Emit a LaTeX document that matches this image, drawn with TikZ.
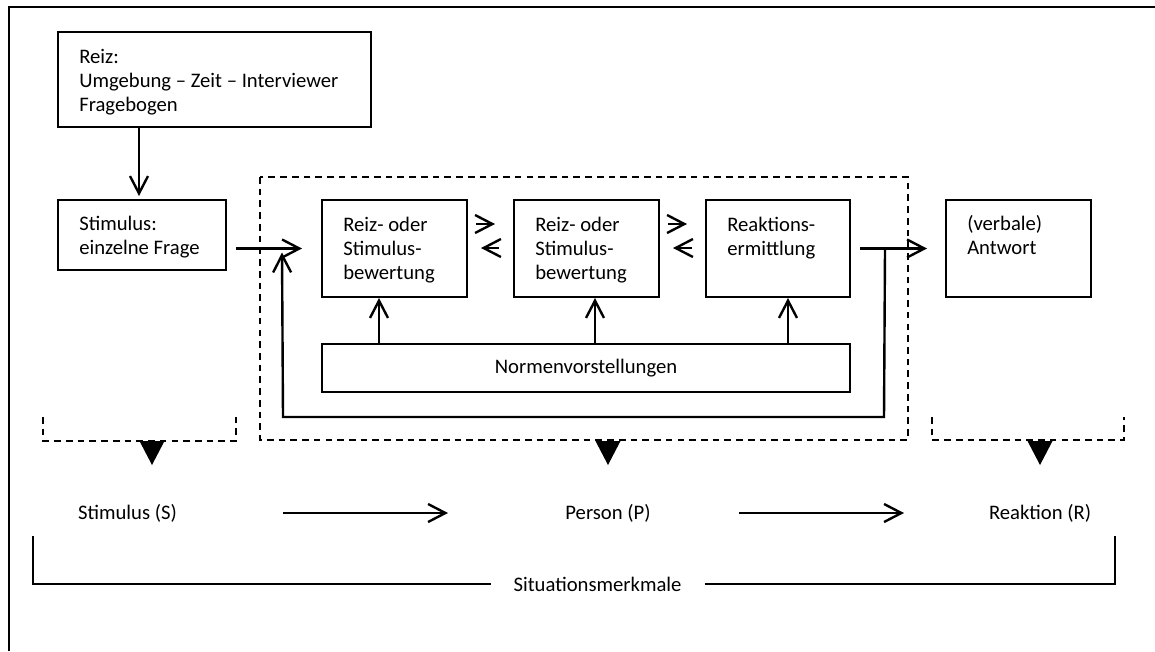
\documentclass[tikz,border=0pt]{standalone}
\usepackage{fontspec}
\setmainfont{Carlito}
\usetikzlibrary{arrows.meta,fit,calc}
\begin{document}
\begin{tikzpicture}[x=0.75pt,y=-0.75pt,
  box/.style={draw, line width=1.5pt, inner sep=0pt},
  txt/.style={inner sep=0pt, font=\fontsize{15.5pt}{18pt}\selectfont},
  arr/.style={line width=1.8pt, -{Straight Barb[length=13pt,width=13.5pt,line width=1.8pt]}},
  link/.style={line width=1.6pt},
  dashbox/.style={line width=1.4pt, dash pattern=on 5pt off 3.8pt},
  marker/.style={fill=black}]
\useasboundingbox (0,0) rectangle (1155,651);

% frame
\draw[line width=1.8pt] (9,651) -- (9,7) -- (1155,7);

% boxes
\node[box, fit={(58,32)(371,127)}] (reiz) {};
\node[box, fit={(58,200)(226,270)}] (stim) {};
\node[box, fit={(322,200)(467,297)}] (b1) {};
\node[box, fit={(514,200)(659,297)}] (b2) {};
\node[box, fit={(706,200)(850,297)}] (b3) {};
\node[box, fit={(946,200)(1091,297)}] (ant) {};
\node[box, fit={(322,344)(850,392)}] (norm) {};

% box texts
\node[txt, anchor=base west] (reiztxt) at (79,63) {\begin{tabular}[t]{@{}l@{}}Reiz:\\Umgebung -- Zeit -- Interviewer\\Fragebogen\end{tabular}};
\node[txt, anchor=base west] (stimtxt) at (79,230) {\begin{tabular}[t]{@{}l@{}}Stimulus:\\einzelne Frage\end{tabular}};
\node[txt, anchor=base west] (b1txt) at (343,231) {\begin{tabular}[t]{@{}l@{}}Reiz- oder\\Stimulus-\\bewertung\end{tabular}};
\node[txt, anchor=base west] (b2txt) at (535,231) {\begin{tabular}[t]{@{}l@{}}Reiz- oder\\Stimulus-\\bewertung\end{tabular}};
\node[txt, anchor=base west] (b3txt) at (727,231) {\begin{tabular}[t]{@{}l@{}}Reaktions-\\ermittlung\end{tabular}};
\node[txt, anchor=base west] (anttxt) at (967,230) {\begin{tabular}[t]{@{}l@{}}(verbale)\\Antwort\end{tabular}};
\node[txt] (normtxt) at (norm.center) {Normenvorstellungen};

% person area and brackets
\draw[dashbox] (260,177) rectangle (908,440);
\draw[dashbox] (43,417) -- (43,441) -- (236,441) -- (236,417);
\draw[dashbox] (932,417) -- (932,440) -- (1124,440) -- (1124,417);
\fill[marker] (139.5,441) -- (164.5,441) -- (152,465) -- cycle;
\fill[marker] (595.5,441) -- (620.5,441) -- (608,465) -- cycle;
\fill[marker] (1027.5,441) -- (1052.5,441) -- (1040,465) -- cycle;

% flow arrows
\draw[arr] ($(reiz.south west)+(82,0)$) -- ($(stim.north west)+(82,-3)$);
\draw[arr] ($(stim.east |- b1.west)+(9,0)$) -- ($(b1.west)+(-19,0)$);
\draw[arr] ($(b1.east)+(8,-24.5)$) -- ($(b2.west)+(-18,-24.5)$);
\draw[arr] ($(b2.west)+(-14,-0.5)$) -- ($(b1.east)+(13,-0.5)$);
\draw[arr] ($(b2.east)+(8,-24.5)$) -- ($(b3.west)+(-18,-24.5)$);
\draw[arr] ($(b3.west)+(-13,-0.5)$) -- ($(b2.east)+(13,-0.5)$);
\draw[arr] ($(norm.north west)+(58,0)$) -- ($(b1.south west)+(58,0)$);
\draw[arr] ($(norm.north west)+(274,0)$) -- ($(b2.south west)+(82,0)$);
\draw[arr] ($(norm.north west)+(467,0)$) -- ($(b3.south west)+(83,0)$);
\coordinate (j) at ($(b3.east)+(34,0)$);
\draw[arr] ($(b3.east)+(9,0)$) -- ($(ant.west)+(-18,0)$);
\coordinate (loopR) at (884,417);
\coordinate (loopL) at (283,417);
\draw[arr] (j) -- (loopR) -- (loopL) -- ($(b1.west)+(-39,4)$);

% S - P - R
\node[txt] (S) at (127.5,513) {Stimulus (S)};
\node[txt] (P) at (608,513) {Person (P)};
\node[txt] (R) at (1040,513) {Reaktion (R)};
\draw[arr] ($(S)+(155.5,0)$) -- ($(P)+(-160,0)$);
\draw[arr] ($(P)+(131,0)$) -- ($(R)+(-136,0)$);

% situational features
\node[txt] (sit) at (597.5,584) {Situationsmerkmale};
\draw[link] (33,536) |- ($(sit.west)+(-22,0)$);
\draw[link] ($(sit.east)+(23,0)$) -| (1115,536);
\end{tikzpicture}
\end{document}
